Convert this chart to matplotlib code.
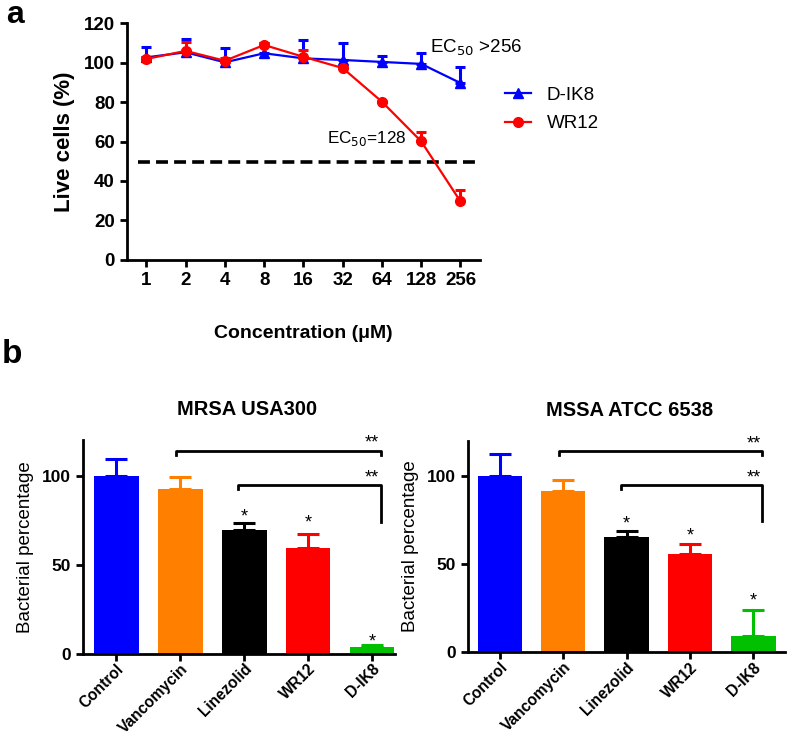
import matplotlib
matplotlib.use("Agg")
import matplotlib.pyplot as plt
from matplotlib.lines import Line2D
import numpy as np

plt.rcParams['font.family'] = ['Liberation Sans', 'DejaVu Sans']

# panel a data
conc_labels = ['1', '2', '4', '8', '16', '32', '64', '128', '256']
dik8_mean = [102.7, 105.3, 100.2, 104.8, 102.2, 101.4, 100.4, 99.4, 89.7]
dik8_err = [5.5, 6.5, 7.5, 5.0, 9.5, 8.5, 2.8, 5.5, 8.3]
wr12_mean = [101.9, 106.0, 101.0, 109.0, 103.0, 97.3, 80.2, 60.1, 29.6]
wr12_err = [1.0, 4.5, 1.5, 1.0, 3.5, 0.5, 0.5, 4.5, 5.9]
ec50_line = 49.4

# panel b data
groups = ['Control', 'Vancomycin', 'Linezolid', 'WR12', 'D-IK8']
bar_colors = ['#0000FF', '#FF8000', '#000000', '#FF0000', '#00C000']
mrsa_mean = [100.0, 92.5, 69.6, 59.5, 3.9]
mrsa_err = [9.6, 6.7, 4.1, 7.7, 1.0]
mssa_mean = [100.0, 91.5, 65.5, 55.7, 9.3]
mssa_err = [12.5, 6.2, 3.3, 5.5, 14.6]

BLUE = '#0000FF'
RED = '#FF0000'

fig = plt.figure(figsize=(7.87, 7.38), dpi=100)

# ---------- panel a ----------
ax = fig.add_axes([0.161, 0.6481, 0.449, 0.3203])
x = np.arange(len(conc_labels))
ax.errorbar(x, dik8_mean, yerr=[np.zeros(len(x)), dik8_err], color=BLUE,
            marker='^', ms=7.5, lw=1.6, capsize=3.5, capthick=2.2, elinewidth=2.2)
ax.errorbar(x, wr12_mean, yerr=[np.zeros(len(x)), wr12_err], color=RED,
            marker='o', ms=7, lw=1.6, capsize=3.5, capthick=2.2, elinewidth=2.2)
ax.plot([-0.22, 8.37], [ec50_line, ec50_line], color='black', lw=2.6,
        ls=(0, (3.3, 1.7)))
ax.set_xlim(-0.5, 8.5)
ax.set_ylim(0, 120)
ax.set_yticks([0, 20, 40, 60, 80, 100, 120])
ax.set_xticks(x)
ax.set_xticklabels(conc_labels)
for s in ['top', 'right']:
    ax.spines[s].set_visible(False)
for s in ['left', 'bottom']:
    ax.spines[s].set_linewidth(2)
ax.tick_params(width=2, length=5, labelsize=13.5)
for t in ax.get_xticklabels() + ax.get_yticklabels():
    t.set_fontweight('bold')
ax.set_ylabel('Live cells (%)', fontsize=16, fontweight='bold', labelpad=6)
ax.set_xlabel('Concentration (\u03bcM)', fontsize=14, fontweight='bold', labelpad=26)
ax.text(7.22, 105, 'EC$_{50}$ >256', fontsize=13.5)
ax.text(4.59, 59, 'EC$_{50}$=128', fontsize=12.3)
handles = [Line2D([], [], color=BLUE, marker='^', ms=7.5, lw=1.6),
           Line2D([], [], color=RED, marker='o', ms=7, lw=1.6)]
ax.legend(handles, ['D-IK8', 'WR12'], loc='upper left', bbox_to_anchor=(1.071, 0.732),
          frameon=False, fontsize=13.5, handlelength=1.39, handletextpad=0.83,
          labelspacing=0.61, borderpad=0, borderaxespad=0)
fig.text(0.008, 0.9688, 'a', fontsize=23, fontweight='bold', va='baseline')

# ---------- panel b ----------
def bar_panel(rect, means, errs, title, title_x, xlim, stars):
    bx = fig.add_axes(rect)
    pos = np.arange(len(groups))
    bx.bar(pos, means, width=0.7, color=bar_colors, zorder=2)
    for p, m, e, c in zip(pos, means, errs, bar_colors):
        bx.errorbar(p, m, yerr=[[0], [e]], color=c, capsize=8, capthick=2.2,
                    elinewidth=2.2, zorder=1)
    bx.set_xlim(*xlim)
    bx.set_ylim(0, 120)
    bx.set_yticks([0, 50, 100])
    bx.set_xticks(pos)
    bx.set_xticklabels(groups, rotation=45, ha='right', rotation_mode='anchor')
    for s in ['top', 'right']:
        bx.spines[s].set_visible(False)
    for s in ['left', 'bottom']:
        bx.spines[s].set_linewidth(2)
    bx.tick_params(width=2, length=5, labelsize=12.5)
    bx.tick_params(axis='x', labelsize=11.2, pad=0.5)
    for t in bx.get_xticklabels() + bx.get_yticklabels():
        t.set_fontweight('bold')
    bx.set_ylabel('Bacterial percentage', fontsize=13.5, labelpad=6)
    bx.set_title(title, fontsize=14.5, fontweight='bold', pad=18, x=title_x)
    # significance brackets
    bx.plot([0.93, 0.93, 4.14, 4.14], [111.8, 114.2, 114.2, 111.8], color='black',
            lw=2, clip_on=False)
    bx.plot([1.91, 1.91, 4.14, 4.14], [92.5, 94.7, 94.7, 74.3], color='black',
            lw=2, clip_on=False)
    bx.text(4.0, 115.8, '**', ha='center', fontsize=13)
    bx.text(4.0, 96.1, '**', ha='center', fontsize=13)
    for p, yv in zip([2, 3, 4], stars):
        bx.text(p, yv, '*', ha='center', fontsize=13)
    return bx

bar_panel([0.1055, 0.1142, 0.3965, 0.289], mrsa_mean, mrsa_err, 'MRSA USA300',
          0.526, (-0.52, 4.36), [74.3, 70.9, 4.0])
bar_panel([0.5947, 0.1165, 0.403, 0.2862], mssa_mean, mssa_err, 'MSSA ATCC 6538',
          0.508, (-0.5, 4.5), [70.3, 63.3, 26.7])
fig.text(0.002, 0.508, 'b', fontsize=24, fontweight='bold', va='baseline')

fig.savefig('out.png', dpi=100)
